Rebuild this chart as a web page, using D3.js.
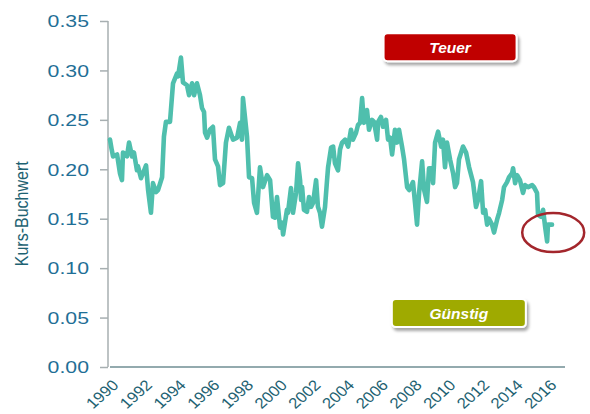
<!DOCTYPE html>
<html>
<head>
<meta charset="utf-8">
<script src="https://cdn.jsdelivr.net/npm/d3@7"></script>
<style>
  html, body { margin: 0; padding: 0; background: #fff; }
  svg { display: block; }
</style>
</head>
<body>
<svg id="chart" width="590" height="414"></svg>
<script>
// ---- data ----
const years = [
  1990.00,1990.10,1990.18,1990.42,1990.59,1990.71,1990.77,1991.01,1991.13,1991.31,
  1991.42,1991.60,1991.66,1991.84,1991.96,1992.14,1992.26,1992.43,1992.55,1992.73,
  1992.85,1993.09,1993.20,1993.32,1993.56,1993.74,1993.98,1994.04,1994.21,1994.33,
  1994.57,1994.69,1994.87,1994.99,1995.16,1995.34,1995.46,1995.58,1995.64,1995.76,
  1995.93,1996.11,1996.23,1996.41,1996.53,1996.71,1996.88,1997.06,1997.30,1997.54,
  1997.72,1997.83,1997.89,1998.13,1998.25,1998.43,1998.55,1998.72,1998.90,1999.08,
  1999.32,1999.50,1999.67,1999.79,1999.91,2000.09,2000.21,2000.27,2000.50,2000.56,
  2000.74,2000.86,2001.04,2001.16,2001.28,2001.34,2001.40,2001.51,2001.69,2001.81,
  2001.93,2002.05,2002.23,2002.34,2002.46,2002.58,2002.76,2002.88,2002.94,2003.12,
  2003.24,2003.35,2003.53,2003.65,2003.77,2003.95,2004.13,2004.30,2004.42,2004.60,
  2004.72,2004.84,2004.96,2005.07,2005.25,2005.37,2005.55,2005.67,2005.85,2005.91,
  2006.08,2006.20,2006.38,2006.50,2006.62,2006.74,2006.91,2007.03,2007.15,2007.33,
  2007.45,2007.63,2007.75,2007.98,2008.10,2008.22,2008.34,2008.52,2008.64,2008.81,
  2008.93,2009.11,2009.17,2009.29,2009.47,2009.65,2009.76,2009.88,2010.00,2010.18,
  2010.36,2010.48,2010.59,2010.71,2010.95,2011.13,2011.31,2011.54,2011.72,2011.84,
  2012.02,2012.14,2012.26,2012.38,2012.49,2012.67,2012.79,2012.97,2013.09,2013.27,
  2013.38,2013.56,2013.68,2013.86,2013.92,2014.04,2014.16,2014.33,2014.51,2014.63,
  2014.81,2015.05,2015.16,2015.34,2015.40,2015.58,2015.70,2015.82,2015.94,2015.99,
  2016.23
];
const kbv = [
  0.230,0.220,0.213,0.215,0.196,0.189,0.217,0.213,0.227,0.213,
  0.217,0.199,0.203,0.191,0.196,0.204,0.179,0.156,0.186,0.177,
  0.179,0.192,0.233,0.248,0.248,0.287,0.297,0.294,0.313,0.288,
  0.285,0.275,0.287,0.275,0.287,0.275,0.262,0.258,0.237,0.232,
  0.240,0.243,0.210,0.203,0.184,0.186,0.227,0.242,0.230,0.232,
  0.247,0.230,0.272,0.233,0.192,0.191,0.166,0.156,0.202,0.182,
  0.194,0.189,0.152,0.151,0.172,0.141,0.146,0.134,0.159,0.156,
  0.181,0.156,0.176,0.206,0.189,0.169,0.182,0.159,0.157,0.172,
  0.162,0.166,0.189,0.162,0.156,0.142,0.162,0.189,0.202,0.222,
  0.223,0.206,0.199,0.220,0.227,0.230,0.223,0.240,0.230,0.237,
  0.245,0.247,0.272,0.247,0.260,0.240,0.250,0.248,0.230,0.248,
  0.253,0.243,0.250,0.230,0.232,0.215,0.240,0.227,0.240,0.223,
  0.210,0.182,0.179,0.187,0.166,0.144,0.176,0.208,0.179,0.167,
  0.201,0.201,0.186,0.227,0.238,0.223,0.230,0.202,0.227,0.210,
  0.196,0.182,0.186,0.210,0.223,0.217,0.202,0.187,0.162,0.169,
  0.188,0.156,0.159,0.144,0.150,0.144,0.136,0.149,0.156,0.169,
  0.182,0.187,0.192,0.196,0.201,0.186,0.194,0.189,0.176,0.184,
  0.182,0.184,0.182,0.176,0.154,0.152,0.159,0.142,0.127,0.144,
  0.144
];
const xTickYears = [1990,1992,1994,1996,1998,2000,2002,2004,2006,2008,2010,2012,2014,2016];
const yTickValues = [0.00,0.05,0.10,0.15,0.20,0.25,0.30,0.35];
const yAxisTitle = "Kurs-Buchwert";
const labelHigh = "Teuer";
const labelLow = "Günstig";

// ---- layout ----
const svg = d3.select("#chart");
const x = d3.scaleLinear().domain([1990, 2017]).range([110, 565]);
const y = d3.scaleLinear().domain([0, 0.35]).range([367, 21]);
const FONT = "'Liberation Sans', Arial, sans-serif";
const SX = 1.33; // horizontal stretch of the reference text

// y axis
const yAxis = svg.append("g").attr("transform", "translate(108,0)")
  .call(d3.axisLeft(y).tickValues(yTickValues).tickFormat(d3.format(".2f")).tickSize(8).tickPadding(0));
yAxis.select(".domain").attr("stroke", "#a7afb1").attr("stroke-width", 1.5)
  .attr("d", `M0,${y(0.35)}V${y(0)}`);
yAxis.selectAll(".tick line").attr("stroke", "#a7afb1").attr("stroke-width", 1.5);
yAxis.selectAll(".tick text").remove();
yAxis.selectAll(".tick").append("text")
  .attr("transform", `translate(-19,0) scale(${SX},1)`)
  .attr("text-anchor", "end")
  .attr("dy", "0.36em")
  .attr("fill", "#1f6f96")
  .style("font-family", FONT)
  .style("font-size", "16px")
  .text(d => d3.format(".2f")(d));

// x axis
const xAxis = svg.append("g").attr("transform", `translate(0,${y(0)})`)
  .call(d3.axisBottom(x).tickValues(xTickYears).tickSize(0).tickFormat(d3.format("d")));
xAxis.select(".domain").attr("stroke", "#6f8e93").attr("stroke-width", 1.3)
  .attr("d", `M110,0H565`);
xAxis.selectAll(".tick text").remove();
xAxis.selectAll(".tick").append("text")
  .attr("transform", `translate(9,19) scale(1.12,1) rotate(-45)`)
  .attr("text-anchor", "end")
  .attr("fill", "#1e6272")
  .style("font-family", FONT)
  .style("font-size", "15px")
  .text(d => d);

// y axis title
svg.append("text")
  .attr("transform", `translate(28,${y(0.155)}) scale(1.2,1) rotate(-90)`)
  .attr("text-anchor", "middle")
  .attr("fill", "#1e6272")
  .style("font-family", FONT)
  .style("font-size", "16px")
  .text(yAxisTitle);

// line
const pts = years.map((yr, i) => [yr, kbv[i]]);
svg.append("path")
  .datum(pts)
  .attr("fill", "none")
  .attr("stroke", "#4fbfad")
  .attr("stroke-width", 4.6)
  .attr("stroke-linejoin", "round")
  .attr("stroke-linecap", "round")
  .attr("d", d3.line().x(d => x(d[0])).y(d => y(d[1])));

// annotations
const defs = svg.append("defs");
const f = defs.append("filter").attr("id", "sh").attr("x", "-20%").attr("y", "-40%").attr("width", "140%").attr("height", "190%");
f.append("feDropShadow").attr("dx", 2).attr("dy", 3).attr("stdDeviation", 1.6).attr("flood-color", "#000").attr("flood-opacity", 0.35);

function badge(cx, cy, w, h, fill, label) {
  const g = svg.append("g").attr("transform", `translate(${cx},${cy})`);
  g.append("rect").attr("x", -w/2).attr("y", -h/2).attr("width", w).attr("height", h)
    .attr("rx", 4).attr("fill", fill).attr("stroke", "#fff").attr("stroke-width", 2)
    .attr("filter", "url(#sh)");
  g.append("text").attr("text-anchor", "middle").attr("dy", "0.36em")
    .attr("fill", "#fff").style("font-family", FONT).style("font-size", "15.5px")
    .style("font-weight", "bold").style("font-style", "italic")
    .text(label);
}
badge(x(2010.18), y(0.3235), 133, 28, "#c00000", labelHigh);
badge(x(2010.70), y(0.0545), 134, 28, "#9faa00", labelLow);

// circle around latest value
svg.append("ellipse")
  .attr("cx", x(2016.3)).attr("cy", y(0.136))
  .attr("rx", 31).attr("ry", 19.5)
  .attr("fill", "none").attr("stroke", "#a3262c").attr("stroke-width", 2.5);
</script>
</body>
</html>
